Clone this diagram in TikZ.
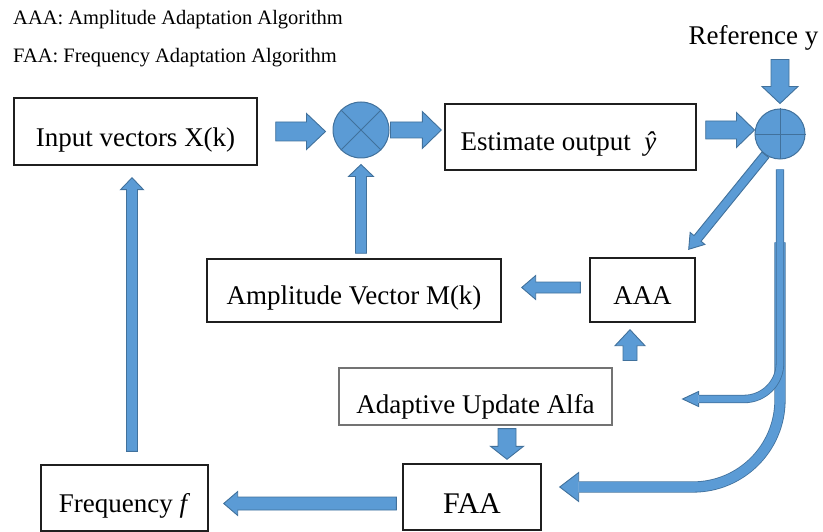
\documentclass[tikz,border=0pt]{standalone}
\usepackage{fontspec}
\setmainfont{Liberation Serif}
\usetikzlibrary{calc}
\definecolor{afill}{RGB}{91,155,213}
\definecolor{aline}{RGB}{65,113,156}
% #1 tail, #2 tip, #3 shaft half width, #4 head half width, #5 head length
\newcommand\blockarrow[5]{%
  \filldraw[barrow] let \p1=#1, \p2=#2, \p3=($(\p2)!#5!(\p1)$) in
  ($(\p1)!#3!90:(\p2)$) -- ($(\p3)!#3!90:(\p2)$) -- ($(\p3)!#4!90:(\p2)$) -- (\p2)
  -- ($(\p3)!#4!-90:(\p2)$) -- ($(\p3)!#3!-90:(\p2)$) -- ($(\p1)!#3!-90:(\p2)$) -- cycle;}
% #1 neck, #2 tip, #3 shaft half width, #4 head half width
\newcommand\arrowhd[4]{%
  \filldraw[barrow] let \p1=#1, \p2=#2 in
  ($(\p1)!#3!90:(\p2)$) -- ($(\p1)!#4!90:(\p2)$) -- (\p2)
  -- ($(\p1)!#4!-90:(\p2)$) -- ($(\p1)!#3!-90:(\p2)$);}
\begin{document}
\begin{tikzpicture}[x=1pt,y=-1pt,
  barrow/.style={fill=afill,draw=aline,line width=0.9pt,line join=miter},
  box/.style={draw=black!88,line width=1.4pt,inner sep=0pt,text depth=0pt,
    font=\fontsize{27pt}{30pt}\selectfont},
  circ/.style={circle,fill=afill,draw=aline,line width=1pt,inner sep=0pt},
  head/.style={inner sep=0pt,anchor=base west,font=\fontsize{20.5pt}{24pt}\selectfont},
  border/.style={draw=aline},
  inner/.style={draw=afill}]
\useasboundingbox (0,0) rectangle (823,532);

% header texts
\node[head] (h1) at (13,24.3) {AAA: Amplitude Adaptation Algorithm};
\node[head] (h2) at (13,63) {FAA: Frequency Adaptation Algorithm};
\node[inner sep=0pt,anchor=base,font=\fontsize{27pt}{30pt}\selectfont] (ref) at (753.5,45) {Reference y};

% boxes
\node[box,minimum width=243pt,minimum height=67pt,text height=30.4pt] (in) at (135.5,131.5) {Input vectors X(k)};
\node[box,minimum width=251pt,minimum height=66pt,text height=27.4pt] (est) at (570.5,137) {Estimate output\ \ \textit{ŷ}\hspace*{24pt}};
\node[box,minimum width=294pt,minimum height=63pt,text height=29pt] (amp) at (354,290.5) {Amplitude Vector M(k)};
\node[box,minimum width=105pt,minimum height=64pt,text height=30pt] (aaa) at (642.5,290) {AAA};
\node[box,draw=black!55,line width=1.1pt,minimum width=273pt,minimum height=57pt,text height=33pt] (alfa) at (475.5,396.5) {Adaptive Update Alfa};
\node[box,minimum width=138pt,minimum height=66pt,text height=32pt,font=\fontsize{30pt}{33pt}\selectfont] (faa) at (472,497) {FAA};
\node[box,minimum width=167pt,minimum height=66pt,text height=28pt] (freq) at (124.5,498) {Frequency \textit{f}};

% circles
\node[circ,minimum size=56pt] (mul) at (361,130) {};
\draw[aline,line width=0.9pt] (mul.45) -- (mul.225) (mul.135) -- (mul.315);
\node[circ,minimum size=50pt] (plus) at (780,134) {};
\draw[aline,line width=0.9pt] (plus.north) -- (plus.south) (plus.west) -- (plus.east);

% straight block arrows
\blockarrow{($(in.east)+(18,0)$)}{($(mul.west|-in.east)+(-7,0)$)}{9.5pt}{18pt}{19pt}
\blockarrow{($(mul.east)+(1,0)$)}{($(mul.east-|est.west)+(-3,0)$)}{8pt}{18.5pt}{19pt}
\blockarrow{($(est.east)+(9,-7)$)}{($(plus.west)+(0,-4)$)}{9pt}{17.5pt}{18pt}
\blockarrow{($(plus.north)+(0,-49)$)}{($(plus.north)+(0,-5)$)}{9pt}{18pt}{17pt}
\blockarrow{($(mul.south|-amp.north)+(0,-5)$)}{($(mul.south)+(0,6)$)}{5.5pt}{12.5pt}{12pt}
\blockarrow{($(in.south|-freq.north)+(-3.5,-13)$)}{($(in.south)+(-3.5,12)$)}{5.5pt}{11.5pt}{12pt}
\blockarrow{($(aaa.west)+(-9,-2.5)$)}{($(amp.east|-aaa.west)+(20,-2.5)$)}{5.5pt}{12pt}{14pt}
\blockarrow{($(aaa.south|-alfa.north)+(-12.5,-7)$)}{($(aaa.south)+(-12.5,7)$)}{7pt}{15pt}{16pt}
\blockarrow{($(alfa.south)+(31.5,3)$)}{($(faa.north)+(35,-4)$)}{9pt}{16.5pt}{13pt}
\blockarrow{($(faa.west)+(-6,6.5)$)}{($(freq.east|-faa.west)+(15,6.5)$)}{6.5pt}{12pt}{14pt}
\blockarrow{(plus.235)}{($(aaa.north east)+(-7,-8)$)}{4.5pt}{9.5pt}{14pt}

% curved arrows from the summing point
\coordinate (c1) at ($(plus.south)+(0,83)$);
\coordinate (fneck) at ($(faa.east)+(37,-10)$);
\draw[border,line width=11.2pt,rounded corners=87pt] (c1) -- (c1|-fneck) -- (fneck);
\draw[inner,line width=9.6pt,rounded corners=87pt] (c1) -- (c1|-fneck) -- (fneck);
\arrowhd{(fneck)}{($(faa.east)+(18,-10)$)}{5.4pt}{14.5pt}

\coordinate (c0) at ($(plus.south)+(0,10)$);
\coordinate (aneck) at ($(alfa.east)+(86,2.5)$);
\draw[border,line width=8.4pt,rounded corners=36pt] (c0) -- (c0|-aneck) -- (aneck);
\draw[inner,line width=6.8pt,rounded corners=36pt] (c0) -- (c0|-aneck) -- (aneck);
\arrowhd{(aneck)}{($(alfa.east)+(70,2.5)$)}{4.1pt}{7.5pt}
\end{tikzpicture}
\end{document}
